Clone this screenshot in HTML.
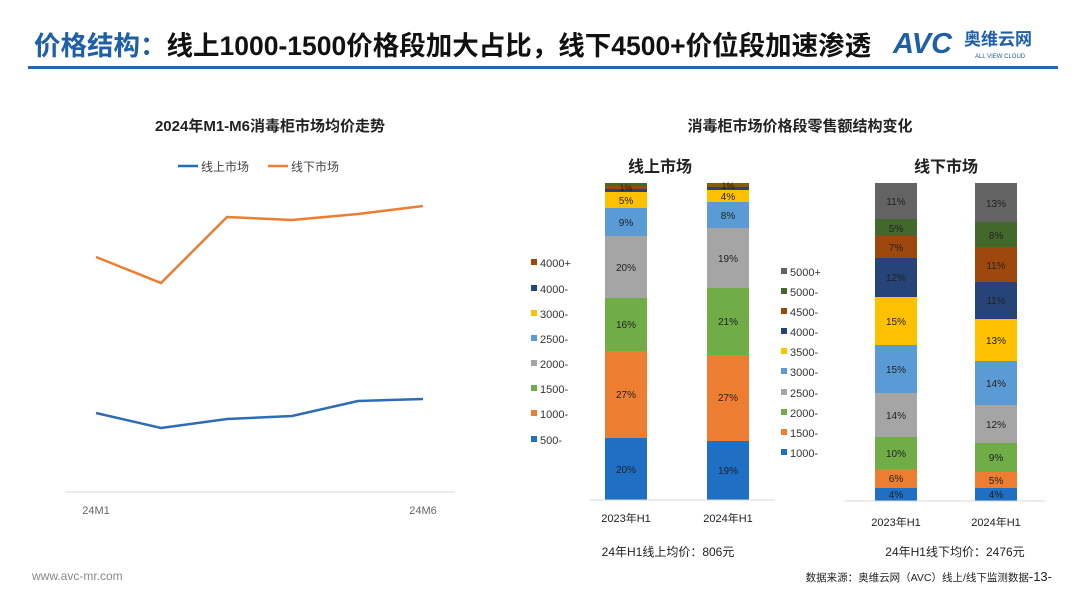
<!DOCTYPE html>
<html><head><meta charset="utf-8"><style>
body{margin:0;background:#fff;}
svg{display:block;font-family:"Liberation Sans","Noto Sans CJK SC",sans-serif;}
</style></head><body>
<svg width="1080" height="608" viewBox="0 0 1080 608" xmlns="http://www.w3.org/2000/svg">
<rect width="1080" height="608" fill="#fff"/>
<!-- header -->
<text x="34" y="55" font-size="26.5" font-weight="bold" fill="#1f5fa8">价格结构：<tspan fill="#111">线上1000-1500价格段加大占比，线下4500+价位段加速渗透</tspan></text>
<rect x="28" y="66" width="1030" height="3" fill="#2a65a8"/>
<text x="893" y="53" font-size="29" font-weight="bold" font-style="italic" fill="#1f5fa8">AVC</text>
<text x="964" y="45" font-size="17" font-weight="bold" fill="#1f5fa8">奥维云网</text>
<text x="975" y="58" font-size="6" fill="#1f5fa8">ALL VIEW CLOUD</text>

<!-- left chart -->
<text x="270" y="131" font-size="15" font-weight="bold" text-anchor="middle" fill="#222">2024年M1-M6消毒柜市场均价走势</text>
<line x1="178" y1="166" x2="198" y2="166" stroke="#1f6fc5" stroke-width="2.5"/>
<text x="201" y="171" font-size="12" fill="#444">线上市场</text>
<line x1="268" y1="166" x2="288" y2="166" stroke="#ed7d31" stroke-width="2.5"/>
<text x="291" y="171" font-size="12" fill="#444">线下市场</text>
<polyline points="96,257 161,283 227,217 292,220 358,214 423,206" fill="none" stroke="#ed7d31" stroke-width="2.5"/>
<polyline points="96,413 161,428 227,419 292,416 358,401 423,399" fill="none" stroke="#2e6db4" stroke-width="2.5"/>
<line x1="65" y1="492" x2="455" y2="492" stroke="#d9d9d9" stroke-width="1"/>
<text x="96" y="514" font-size="11" text-anchor="middle" fill="#666">24M1</text>
<text x="423" y="514" font-size="11" text-anchor="middle" fill="#666">24M6</text>

<!-- right chart -->
<text x="800" y="131" font-size="15" font-weight="bold" text-anchor="middle" fill="#222">消毒柜市场价格段零售额结构变化</text>
<text x="660" y="172" font-size="16" font-weight="bold" text-anchor="middle" fill="#222">线上市场</text>
<text x="946" y="172" font-size="16" font-weight="bold" text-anchor="middle" fill="#222">线下市场</text>

<g font-size="10" text-anchor="middle" fill="#222">
<!-- online bar1 -->
<rect x="605" y="438" width="42" height="62" fill="#1f6fc5"/><text x="626" y="473">20%</text>
<rect x="605" y="351" width="42" height="87" fill="#ed7d31"/><text x="626" y="398">27%</text>
<rect x="605" y="298" width="42" height="53" fill="#70ad47"/><text x="626" y="328">16%</text>
<rect x="605" y="236" width="42" height="62" fill="#a5a5a5"/><text x="626" y="271">20%</text>
<rect x="605" y="208" width="42" height="28" fill="#5b9bd5"/><text x="626" y="226">9%</text>
<rect x="605" y="192" width="42" height="16" fill="#ffc000"/><text x="626" y="204">5%</text>
<rect x="605" y="189" width="42" height="3" fill="#264478"/>
<rect x="605" y="186" width="42" height="3" fill="#9e480e"/>
<rect x="605" y="183" width="42" height="3" fill="#43682b"/>
<text x="626" y="191" font-size="9">1%</text>
<!-- online bar2 -->
<rect x="707" y="441" width="42" height="59" fill="#1f6fc5"/><text x="728" y="474">19%</text>
<rect x="707" y="355" width="42" height="86" fill="#ed7d31"/><text x="728" y="401">27%</text>
<rect x="707" y="288" width="42" height="67" fill="#70ad47"/><text x="728" y="325">21%</text>
<rect x="707" y="228" width="42" height="60" fill="#a5a5a5"/><text x="728" y="262">19%</text>
<rect x="707" y="202" width="42" height="26" fill="#5b9bd5"/><text x="728" y="219">8%</text>
<rect x="707" y="190" width="42" height="12" fill="#ffc000"/><text x="728" y="200">4%</text>
<rect x="707" y="187" width="42" height="3" fill="#264478"/>
<rect x="707" y="183" width="42" height="4" fill="#7f6000"/>
<text x="728" y="189" font-size="9">1%</text>
<line x1="590" y1="500" x2="775" y2="500" stroke="#d9d9d9"/>

<!-- offline bar1 -->
<rect x="875" y="488" width="42" height="13" fill="#1f6fc5"/><text x="896" y="498">4%</text>
<rect x="875" y="469" width="42" height="19" fill="#ed7d31"/><text x="896" y="482">6%</text>
<rect x="875" y="437" width="42" height="32" fill="#70ad47"/><text x="896" y="457">10%</text>
<rect x="875" y="393" width="42" height="44" fill="#a5a5a5"/><text x="896" y="419">14%</text>
<rect x="875" y="345" width="42" height="48" fill="#5b9bd5"/><text x="896" y="373">15%</text>
<rect x="875" y="297" width="42" height="48" fill="#ffc000"/><text x="896" y="325">15%</text>
<rect x="875" y="258" width="42" height="39" fill="#264478"/><text x="896" y="281">12%</text>
<rect x="875" y="236" width="42" height="22" fill="#9e480e"/><text x="896" y="251">7%</text>
<rect x="875" y="219" width="42" height="17" fill="#43682b"/><text x="896" y="232">5%</text>
<rect x="875" y="183" width="42" height="36" fill="#636363"/><text x="896" y="205">11%</text>
<!-- offline bar2 -->
<rect x="975" y="488" width="42" height="13" fill="#1f6fc5"/><text x="996" y="498">4%</text>
<rect x="975" y="472" width="42" height="16" fill="#ed7d31"/><text x="996" y="484">5%</text>
<rect x="975" y="443" width="42" height="29" fill="#70ad47"/><text x="996" y="461">9%</text>
<rect x="975" y="405" width="42" height="38" fill="#a5a5a5"/><text x="996" y="428">12%</text>
<rect x="975" y="361" width="42" height="44" fill="#5b9bd5"/><text x="996" y="387">14%</text>
<rect x="975" y="319" width="42" height="42" fill="#ffc000"/><text x="996" y="344">13%</text>
<rect x="975" y="282" width="42" height="37" fill="#264478"/><text x="996" y="304">11%</text>
<rect x="975" y="247" width="42" height="35" fill="#9e480e"/><text x="996" y="269">11%</text>
<rect x="975" y="222" width="42" height="25" fill="#43682b"/><text x="996" y="239">8%</text>
<rect x="975" y="183" width="42" height="39" fill="#636363"/><text x="996" y="207">13%</text>
<line x1="845" y1="501" x2="1045" y2="501" stroke="#d9d9d9"/>
</g>

<!-- legends -->
<g font-size="11" fill="#333">
<rect x="531" y="259" width="6" height="6" fill="#9e480e"/><text x="540" y="267">4000+</text>
<rect x="531" y="285" width="6" height="6" fill="#264478"/><text x="540" y="293">4000-</text>
<rect x="531" y="310" width="6" height="6" fill="#ffc000"/><text x="540" y="318">3000-</text>
<rect x="531" y="335" width="6" height="6" fill="#5b9bd5"/><text x="540" y="343">2500-</text>
<rect x="531" y="360" width="6" height="6" fill="#a5a5a5"/><text x="540" y="368">2000-</text>
<rect x="531" y="385" width="6" height="6" fill="#70ad47"/><text x="540" y="393">1500-</text>
<rect x="531" y="410" width="6" height="6" fill="#ed7d31"/><text x="540" y="418">1000-</text>
<rect x="531" y="436" width="6" height="6" fill="#1f6fc5"/><text x="540" y="444">500-</text>

<rect x="781" y="268" width="6" height="6" fill="#636363"/><text x="790" y="276">5000+</text>
<rect x="781" y="288" width="6" height="6" fill="#43682b"/><text x="790" y="296">5000-</text>
<rect x="781" y="308" width="6" height="6" fill="#9e480e"/><text x="790" y="316">4500-</text>
<rect x="781" y="328" width="6" height="6" fill="#264478"/><text x="790" y="336">4000-</text>
<rect x="781" y="348" width="6" height="6" fill="#ffc000"/><text x="790" y="356">3500-</text>
<rect x="781" y="368" width="6" height="6" fill="#5b9bd5"/><text x="790" y="376">3000-</text>
<rect x="781" y="389" width="6" height="6" fill="#a5a5a5"/><text x="790" y="397">2500-</text>
<rect x="781" y="409" width="6" height="6" fill="#70ad47"/><text x="790" y="417">2000-</text>
<rect x="781" y="429" width="6" height="6" fill="#ed7d31"/><text x="790" y="437">1500-</text>
<rect x="781" y="449" width="6" height="6" fill="#1f6fc5"/><text x="790" y="457">1000-</text>
</g>

<g font-size="11" fill="#222" text-anchor="middle">
<text x="626" y="522">2023年H1</text>
<text x="728" y="522">2024年H1</text>
<text x="896" y="526">2023年H1</text>
<text x="996" y="526">2024年H1</text>
<text x="668" y="556" font-size="12">24年H1线上均价：806元</text>
<text x="955" y="556" font-size="12">24年H1线下均价：2476元</text>
</g>
<text x="32" y="580" font-size="12" fill="#888">www.avc-mr.com</text>
<text x="1052" y="581" font-size="10.5" fill="#222" text-anchor="end">数据来源：奥维云网（AVC）线上/线下监测数据<tspan font-size="13">-13-</tspan></text>
</svg>
</body></html>
